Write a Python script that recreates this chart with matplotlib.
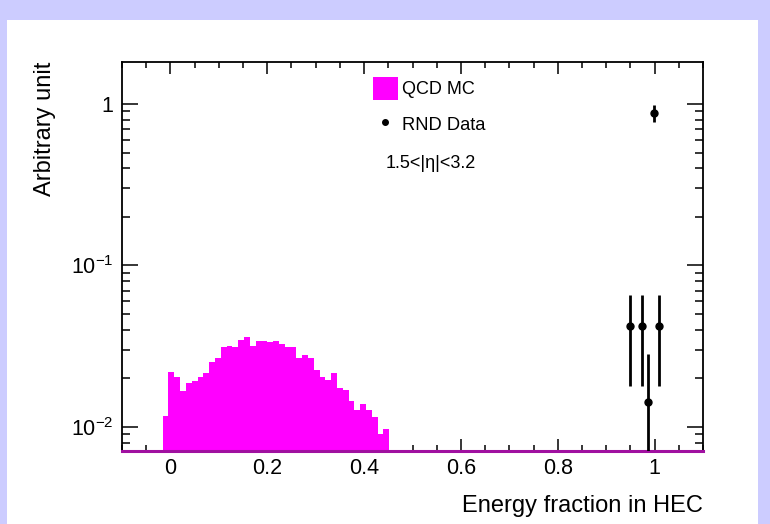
import numpy as np
import matplotlib
matplotlib.use("Agg")
import matplotlib.pyplot as plt
from matplotlib.patches import Rectangle
from matplotlib.lines import Line2D

plt.rcParams['font.family'] = ['Liberation Sans', 'DejaVu Sans']
plt.rcParams['mathtext.fontset'] = 'custom'
plt.rcParams['mathtext.rm'] = 'Liberation Sans'
plt.rcParams['mathtext.it'] = 'Liberation Sans'

# ---- data ----
mc_bin_start = -0.016
mc_bin_width = 0.012
mc_values = [0.0117, 0.0220, 0.0205, 0.0166, 0.0187, 0.0193, 0.0205, 0.0217,
             0.0254, 0.0266, 0.0311, 0.0318, 0.0314, 0.0346, 0.0362, 0.0318,
             0.0341, 0.0341, 0.0336, 0.0341, 0.0327, 0.0314, 0.0314, 0.0268,
             0.0279, 0.0268, 0.0225, 0.0205, 0.0195, 0.0215, 0.0174, 0.0170,
             0.0144, 0.0127, 0.0139, 0.0127, 0.0115, 0.0091, 0.0097]

rnd_x = [0.950, 0.974, 0.986, 0.998, 1.010]
rnd_y = [0.042, 0.042, 0.0142, 0.88, 0.042]
rnd_err = [0.024, 0.024, 0.0142, 0.11, 0.024]

x_major = [0, 0.2, 0.4, 0.6, 0.8, 1.0]
x_labels = ["0", "0.2", "0.4", "0.6", "0.8", "1"]
y_major = [0.01, 0.1, 1.0]
y_labels = [r"$\mathregular{10^{-2}}$", r"$\mathregular{10^{-1}}$", "1"]

xlim = (-0.1, 1.1)
ylim = (0.0071, 1.82)

# ---- figure ----
W, H = 770, 524
fig = plt.figure(figsize=(W / 100, H / 100), dpi=100)
fig.patch.set_facecolor('#ccccff')
fig.patches.append(Rectangle((7 / W, 0), (758 - 7) / W, (H - 20) / H,
                             transform=fig.transFigure, facecolor='white',
                             edgecolor='none', zorder=-10))

L, R, T, B = 122, 703, 62, 451
ax = fig.add_axes([L / W, 1 - B / H, (R - L) / W, (B - T) / H])
ax.set_zorder(1)
ax.set_facecolor('white')
ax.set_yscale('log')

n = len(mc_values)
edges = mc_bin_start + mc_bin_width * np.arange(n + 1)
ax.stairs(mc_values, edges, fill=True, color='#ff00ff', baseline=1e-5, zorder=2)

ax.errorbar(rnd_x, rnd_y, yerr=rnd_err, fmt='o', color='black', ms=5,
            elinewidth=2.0, capsize=0, zorder=4, clip_on=True)

ax.set_xlim(*xlim)
ax.set_ylim(*ylim)

ax.set_xticks(x_major)
ax.set_xticklabels(x_labels)
ax.set_xticks(np.arange(-0.1, 1.1001, 0.05), minor=True)
ax.set_yticks(y_major)
ax.set_yticklabels(y_labels)
ax.yaxis.set_minor_locator(matplotlib.ticker.LogLocator(base=10, subs=np.arange(2, 10)))
ax.yaxis.set_minor_formatter(matplotlib.ticker.NullFormatter())

ax.tick_params(axis='both', which='both', direction='in', top=True, right=True,
               width=1.1, color='black')
ax.tick_params(axis='x', which='major', length=8.6, labelsize=15.5, pad=5)
ax.tick_params(axis='x', which='minor', length=4.3)
ax.tick_params(axis='y', which='major', length=11.5, labelsize=15.5, pad=6)
ax.tick_params(axis='y', which='minor', length=5.8)

for s in ax.spines.values():
    s.set_linewidth(1.3)
    s.set_color('black')
ax.spines['bottom'].set_color('#a010a0')
ax.spines['bottom'].set_linewidth(2.2)

ax.set_xlabel("Energy fraction in HEC", fontsize=17, loc='right')
ax.xaxis.set_label_coords(1.0, -0.112)
ax.xaxis.label.set_va('top')
ax.set_ylabel("Arbitrary unit", fontsize=17, loc='top')
ax.yaxis.set_label_coords(-0.114, 1.0)

# ---- legend ----
def fx(px):
    return px / W

def fy(py):
    return 1 - py / H

fig.patches.append(Rectangle((fx(373), fy(100)), 25 / W, 23 / H,
                             transform=fig.transFigure, facecolor='#ff00ff',
                             edgecolor='none', zorder=5))
fig.text(fx(402), fy(89), "QCD MC", fontsize=13, va='center', ha='left', zorder=5)
fig.lines.append(Line2D([fx(385)], [fy(122)], marker='o', color='black', ms=4,
                        transform=fig.transFigure, zorder=5))
fig.text(fx(402), fy(125), "RND Data", fontsize=13.2, va='center', ha='left', zorder=5)
fig.text(fx(386), fy(163), "1.5<|η|<3.2", fontsize=13, va='center', ha='left', zorder=5)

fig.savefig("out.png", dpi=100, facecolor=fig.get_facecolor())
